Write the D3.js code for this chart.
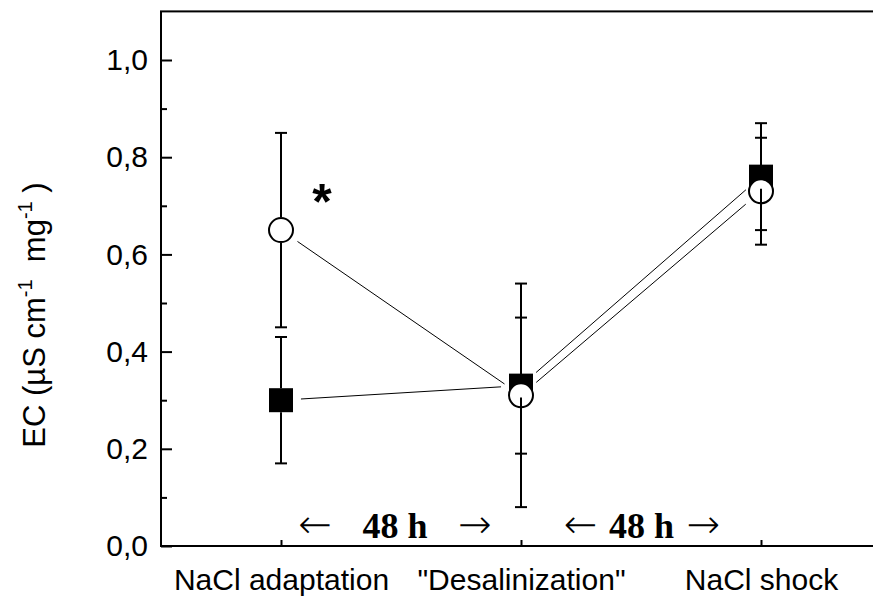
<!DOCTYPE html>
<html>
<head>
<meta charset="utf-8">
<script src="https://cdn.jsdelivr.net/npm/d3@7"></script>
<style>
  body { margin: 0; background: #fff; }
  svg { display: block; }
</style>
</head>
<body>
<div id="chart"></div>
<script>
const categories = ['NaCl adaptation', '"Desalinization"', 'NaCl shock'];
const squareMean = [0.30, 0.33, 0.76];
const squareErr = [0.13, 0.14, 0.11];
const circleMean = [0.65, 0.31, 0.73];
const circleErr = [0.20, 0.23, 0.11];
const yMajor = [0, 0.2, 0.4, 0.6, 0.8, 1.0];
const yMinor = [0.1, 0.3, 0.5, 0.7, 0.9];

const width = 873, height = 598;
const svg = d3.select('#chart').append('svg')
  .attr('width', width).attr('height', height);

const x = d3.scaleLinear().domain([0.5, 3.5]).range([161, 881]);
const y = d3.scaleLinear().domain([0, 1.1]).range([546, 11.4]);

const fmt = d => d3.format('.1f')(d).replace('.', ',');
const sans = 'Liberation Sans, Arial, sans-serif';

// frame
svg.append('rect')
  .attr('x', x(0.5)).attr('y', y(1.1))
  .attr('width', x(3.5) - x(0.5)).attr('height', y(0) - y(1.1))
  .attr('fill', 'none').attr('stroke', '#000').attr('stroke-width', 2);

// y axis
const yAxis = svg.append('g').attr('transform', `translate(${x(0.5)},0)`)
  .call(d3.axisLeft(y).tickValues(yMajor).tickSize(-11).tickPadding(13).tickFormat(fmt));
const yMinorAxis = svg.append('g').attr('transform', `translate(${x(0.5)},0)`)
  .call(d3.axisLeft(y).tickValues(yMinor).tickSize(-6).tickFormat(''));

// x axis
const xAxis = svg.append('g').attr('transform', `translate(0,${y(0)})`)
  .call(d3.axisBottom(x).tickValues([1, 2, 3]).tickSize(-6).tickPadding(23)
    .tickFormat(d => categories[d - 1]));

[yAxis, yMinorAxis, xAxis].forEach(g => {
  g.select('.domain').remove();
  g.selectAll('line').attr('stroke', '#000').attr('stroke-width', 2);
  g.selectAll('text').attr('font-family', sans)
    .attr('font-size', 30).attr('fill', '#000');
});

// y axis title
const yt = svg.append('text')
  .attr('transform', `translate(45,${y(0.5) + 12}) rotate(-90)`)
  .attr('text-anchor', 'middle')
  .attr('font-family', sans)
  .attr('font-size', 31).attr('fill', '#000')
  .attr('xml:space', 'preserve').style('white-space', 'pre');
yt.append('tspan').text('EC (µS cm');
yt.append('tspan').attr('font-size', 20).attr('dy', -13).text('-1');
yt.append('tspan').attr('dy', 13).text('  mg');
yt.append('tspan').attr('font-size', 20).attr('dy', -13).text('-1');
yt.append('tspan').attr('dy', 13).text(' )');

// connecting lines, clipped at marker edges
function seg(means, gap) {
  const pts = means.map((m, i) => [x(i + 1), y(m)]);
  const out = [];
  for (let i = 0; i < pts.length - 1; i++) {
    const [x1, y1] = pts[i], [x2, y2] = pts[i + 1];
    const L = Math.hypot(x2 - x1, y2 - y1);
    const ux = (x2 - x1) / L, uy = (y2 - y1) / L;
    out.push([x1 + ux * gap, y1 + uy * gap, x2 - ux * gap, y2 - uy * gap]);
  }
  return out;
}
svg.append('g').selectAll('line')
  .data(seg(squareMean, 20).concat(seg(circleMean, 20)))
  .join('line')
  .attr('x1', d => d[0]).attr('y1', d => d[1])
  .attr('x2', d => d[2]).attr('y2', d => d[3])
  .attr('stroke', '#000').attr('stroke-width', 1);

// markers
const sq = 24, r = 12;
svg.append('g').selectAll('rect')
  .data(squareMean).join('rect')
  .attr('x', (d, i) => x(i + 1) - sq / 2).attr('y', d => y(d) - sq / 2)
  .attr('width', sq).attr('height', sq).attr('fill', '#000');
svg.append('g').selectAll('circle')
  .data(circleMean).join('circle')
  .attr('cx', (d, i) => x(i + 1)).attr('cy', d => y(d)).attr('r', r)
  .attr('fill', '#fff').attr('stroke', '#000').attr('stroke-width', 2);

// error bars from marker edge outward
function errBars(means, errs, half) {
  const g = svg.append('g').attr('stroke', '#000').attr('stroke-width', 2);
  means.forEach((m, i) => {
    const cx = x(i + 1);
    [[m + errs[i], y(m) - half], [m - errs[i], y(m) + half]].forEach(([v, start]) => {
      g.append('line').attr('x1', cx).attr('x2', cx).attr('y1', start).attr('y2', y(v));
      g.append('line').attr('x1', cx - 6).attr('x2', cx + 6).attr('y1', y(v)).attr('y2', y(v));
    });
  });
}
errBars(squareMean, squareErr, sq / 2);
errBars(circleMean, circleErr, r + 1);

// asterisk
svg.append('text').attr('x', x(1.171)).attr('y', y(0.672))
  .attr('text-anchor', 'middle').attr('font-family', sans)
  .attr('font-weight', 'bold').attr('font-size', 50).text('*');

// 48 h annotations
const annX = [1.142, 1.475, 1.808, 2.248, 2.502, 2.760];
const annT = ['\u2190', '48 h', '\u2192', '\u2190', '48 h', '\u2192'];
svg.append('g').selectAll('text')
  .data(annT).join('text')
  .attr('x', (d, i) => x(annX[i])).attr('y', y(0.017))
  .attr('text-anchor', 'middle')
  .attr('font-family', d => d === '48 h' ? 'Liberation Serif, Times New Roman, serif' : 'DejaVu Sans, sans-serif')
  .attr('font-weight', d => d === '48 h' ? 'bold' : 200)
  .attr('font-size', d => d === '48 h' ? 36 : 40).attr('fill', '#000')
  .text(d => d);
</script>
</body>
</html>
